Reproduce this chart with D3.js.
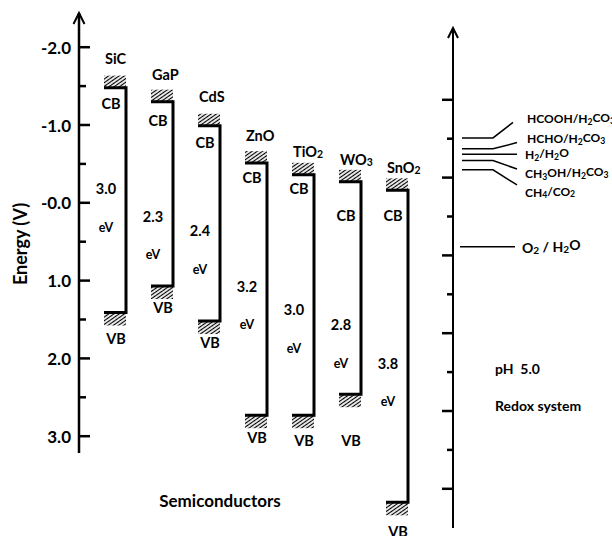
<!DOCTYPE html>
<html><head><meta charset="utf-8">
<script src="https://cdn.jsdelivr.net/npm/d3@7"></script>
<style>
body{margin:0;background:#fff}
svg text{font-family:Lato,'Liberation Sans',sans-serif;font-weight:bold;fill:#000;white-space:pre}
</style>
</head><body>
<svg id="c" width="612" height="536"></svg>
<script>
// ---------- data ----------
const semis = ["SiC","GaP","CdS","ZnO","TiO2","WO3","SnO2"];
const cbEdge = [-1.48,-1.30,-0.99,-0.51,-0.36,-0.27,-0.16];
const vbEdge = [1.41,1.07,1.52,2.73,2.73,2.46,3.85];
const gapLabels = ["3.0","2.3","2.4","3.2","3.0","2.8","3.8"];
const nameLabelE = [-1.86,-1.66,-1.37,-0.87,-0.67,-0.56,-0.46];
const gapLabelE = [-0.18,0.17,0.36,1.07,1.37,1.56,2.06];
const cbLabelE = [-1.27,-1.06,-0.78,-0.33,-0.18,0.16,0.16];
const vbLabelE = [1.75,1.35,1.80,3.02,3.05,3.05,4.22];
const energyTicks = [-2,-1,0,1,2,3];
const energyTickLabels = ["-2.0","-1.0","-0.0","1.0","2.0","3.0"];
const energyMinor = [-1.5,-0.5,0.5,1.5,2.5];
const redoxTicks = [-1,0,1,2,3,4];
const redoxMinor = [-0.5,0.5,1.5,2.5,3.5];
const redoxCouples = ["HCOOH/H2CO3","HCHO/H2CO3","H2/H2O","CH3OH/H2CO3","CH4/CO2","O2 / H2O"];
const redoxE = [-0.51,-0.37,-0.30,-0.22,-0.10,0.89];
const redoxLeaderE = [-0.71,-0.45,-0.30,-0.11,0.095,0.89];
const redoxLabelE = [-0.76,-0.51,-0.30,-0.055,0.18,0.89];
const notes = ["pH  5.0","Redox system"];

// ---------- layout ----------
const svg = d3.select("#c");
const y = d3.scaleLinear().domain([-2,3]).range([47.2,436.2]);
const yR = d3.scaleLinear().domain([-1,4]).range([99.8,488.8]);
const x = d3.scalePoint().domain(semis).range([126,408]);
const axX = 79, axRX = 453;

// hatch pattern
const defs = svg.append("defs");
const pat = defs.append("pattern").attr("id","hatch").attr("patternUnits","userSpaceOnUse")
  .attr("width",3).attr("height",3).attr("patternTransform","rotate(-35)");
pat.append("line").attr("x1",0).attr("y1",1.5).attr("x2",3).attr("y2",1.5)
  .attr("stroke","#000").attr("stroke-width",1.2);

function chem(sel, str){
  const parts = str.match(/(\d+|[^\d]+)/g);
  let sub = false;
  parts.forEach((p,i)=>{
    const isNum = /^\d+$/.test(p) && i>0;
    const t = sel.append("tspan").text(p);
    if(isNum){ t.attr("font-size","0.72em").attr("dy", sub?0:"0.3em"); sub=true; }
    else { if(sub){ t.attr("dy","-0.3em"); } sub=false; }
  });
}

// ---------- left axis ----------
const gL = svg.append("g");
gL.append("line").attr("x1",axX).attr("x2",axX).attr("y1",13).attr("y2",453)
  .attr("stroke","#000").attr("stroke-width",2.5);
gL.append("path").attr("d",`M${axX-5.5},24 L${axX},13 L${axX+5.5},24`)
  .attr("fill","none").attr("stroke","#000").attr("stroke-width",2);
gL.selectAll(".maj").data(energyTicks).join("line").attr("class","maj")
  .attr("x1",axX).attr("x2",axX+11).attr("y1",d=>y(d)).attr("y2",d=>y(d))
  .attr("stroke","#000").attr("stroke-width",2.5);
gL.selectAll(".min").data(energyMinor).join("line").attr("class","min")
  .attr("x1",axX).attr("x2",axX+7).attr("y1",d=>y(d)).attr("y2",d=>y(d))
  .attr("stroke","#000").attr("stroke-width",2.5);
gL.selectAll(".tl").data(energyTicks).join("text").attr("class","tl")
  .attr("x",71).attr("y",d=>y(d)).attr("dominant-baseline","central")
  .attr("text-anchor","end").attr("font-size",17)
  .text((d,i)=>energyTickLabels[i]);
svg.append("text").attr("transform","translate(20,244) rotate(-90)")
  .attr("text-anchor","middle").attr("dominant-baseline","central")
  .attr("font-size",18).text("Energy (V)");
svg.append("text").attr("x",220).attr("y",500).attr("text-anchor","middle")
  .attr("dominant-baseline","central").attr("font-size",17).text("Semiconductors");

// ---------- semiconductors ----------
const W = 22;
const gS = svg.append("g");
semis.forEach((s,i)=>{
  const lx = x(s), cy = y(cbEdge[i]), vy = y(vbEdge[i]);
  gS.append("rect").attr("x",lx-W).attr("y",cy-12).attr("width",W).attr("height",12).attr("fill","url(#hatch)");
  gS.append("rect").attr("x",lx-W).attr("y",vy).attr("width",W).attr("height",13).attr("fill","url(#hatch)");
  gS.append("path").attr("d",`M${lx-W},${cy} H${lx} V${vy} H${lx-W}`)
    .attr("fill","none").attr("stroke","#000").attr("stroke-width",3);
  chem(gS.append("text").attr("x",lx-21).attr("y",y(nameLabelE[i]))
    .attr("dominant-baseline","central").attr("font-size",14.5), s);
  gS.append("text").attr("x",lx-15).attr("y",y(cbLabelE[i])).attr("text-anchor","middle")
    .attr("dominant-baseline","central").attr("font-size",14.5).text("CB");
  gS.append("text").attr("x",lx-10).attr("y",y(vbLabelE[i])).attr("text-anchor","middle")
    .attr("dominant-baseline","central").attr("font-size",14.5).text("VB");
  gS.append("text").attr("x",lx-20).attr("y",y(gapLabelE[i])).attr("text-anchor","middle")
    .attr("dominant-baseline","central").attr("font-size",14.5).text(gapLabels[i]);
  gS.append("text").attr("x",lx-20).attr("y",y(gapLabelE[i]+0.5)).attr("text-anchor","middle")
    .attr("dominant-baseline","central").attr("font-size",12.5).text("eV");
});

// ---------- right axis ----------
const gR = svg.append("g");
gR.append("line").attr("x1",axRX).attr("x2",axRX).attr("y1",28).attr("y2",528)
  .attr("stroke","#000").attr("stroke-width",2);
gR.append("path").attr("d",`M${axRX-5},38 L${axRX},28 L${axRX+5},38`)
  .attr("fill","none").attr("stroke","#000").attr("stroke-width",2);
gR.selectAll(".rmaj").data(redoxTicks).join("line").attr("class","rmaj")
  .attr("x1",axRX-11).attr("x2",axRX).attr("y1",d=>yR(d)).attr("y2",d=>yR(d))
  .attr("stroke","#000").attr("stroke-width",2.5);
gR.selectAll(".rmin").data(redoxMinor).join("line").attr("class","rmin")
  .attr("x1",axRX-6).attr("x2",axRX).attr("y1",d=>yR(d)).attr("y2",d=>yR(d))
  .attr("stroke","#000").attr("stroke-width",2.5);

redoxCouples.forEach((c,i)=>{
  const ly = yR(redoxE[i]), ey = yR(redoxLeaderE[i]);
  const isO2 = i===5;
  if(isO2){
    gR.append("line").attr("x1",460).attr("x2",515).attr("y1",ly).attr("y2",ly)
      .attr("stroke","#000").attr("stroke-width",1.5);
  } else {
    gR.append("path").attr("d",`M462,${ly} H493 L${i===0?513:517},${ey}`)
      .attr("fill","none").attr("stroke","#000").attr("stroke-width",1.5);
  }
  chem(gR.append("text").attr("x",isO2?522:(i<2?527:525)).attr("y",yR(redoxLabelE[i]))
    .attr("dominant-baseline","central").attr("font-size",isO2?14:12), c);
});
svg.selectAll(".note").data(notes).join("text").attr("class","note")
  .attr("x",495).attr("y",(d,i)=>[368,405][i]).attr("dominant-baseline","central")
  .attr("font-size",14).text(d=>d);
</script>
</body></html>
